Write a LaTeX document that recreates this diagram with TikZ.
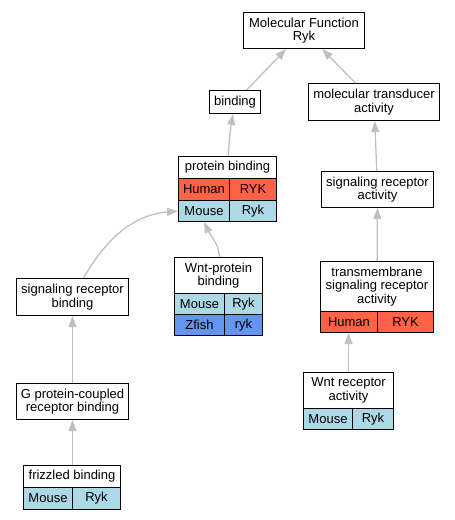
\documentclass[tikz,border=0pt]{standalone}
\usepackage{fontspec}
\setmainfont{Liberation Sans}
\usetikzlibrary{arrows.meta}
\definecolor{tomatoc}{RGB}{255,99,71}
\definecolor{lblue}{RGB}{173,216,230}
\definecolor{cblue}{RGB}{100,149,237}
\definecolor{edgegray}{RGB}{192,192,192}
\begin{document}
\begin{tikzpicture}[x=1pt,y=-1pt,
  cell/.style={draw=black, line width=1pt, inner sep=0pt, anchor=north west,
    align=center, font=\fontsize{13}{13.5}\selectfont, fill=white},
  human/.style={cell, fill=tomatoc},
  mouse/.style={cell, fill=lblue},
  zfish/.style={cell, fill=cblue},
  edge/.style={draw=edgegray, line width=1.3pt, -{Triangle[length=11pt,width=8pt]}}
]
\useasboundingbox (0,0) rectangle (455,520);
% nodes
\node[cell, minimum width=121pt, minimum height=36pt] (mf) at (243,12) {Molecular Function\\Ryk};
\node[cell, minimum width=51pt, minimum height=23pt] (bind) at (209,90) {binding};
\node[cell, minimum width=131pt, minimum height=37pt] (mta) at (308,83) {molecular transducer\\activity};
% protein binding
\node[cell, minimum width=98pt, minimum height=22pt] (pbh) at (178,156) {protein binding};
\node[human, minimum width=51pt, minimum height=22pt] (pbhu) at (178,178) {Human};
\node[human, minimum width=47pt, minimum height=22pt] (pbhur) at (229,178) {RYK};
\node[mouse, minimum width=51pt, minimum height=21pt] (pbm) at (178,200) {Mouse};
\node[mouse, minimum width=47pt, minimum height=21pt] (pbmr) at (229,200) {Ryk};
\node[cell, minimum width=112pt, minimum height=36pt] (sra) at (321,171) {signaling receptor\\activity};
\node[cell, minimum width=112pt, minimum height=37pt] (srb) at (16,278) {signaling receptor\\binding};
% Wnt-protein binding
\node[cell, minimum width=88pt, minimum height=36pt] (wpbh) at (174,257) {Wnt-protein\\binding};
\node[mouse, minimum width=50pt, minimum height=21pt] (wpbm) at (174,293) {Mouse};
\node[mouse, minimum width=38pt, minimum height=21pt] (wpbmr) at (224,293) {Ryk};
\node[zfish, minimum width=50pt, minimum height=21pt] (wpbz) at (174,314) {Zfish};
\node[zfish, minimum width=38pt, minimum height=21pt] (wpbzr) at (224,314) {ryk};
\node[cell, minimum width=112pt, minimum height=36pt] (gp) at (16,383) {G protein-coupled\\receptor binding};
% frizzled binding
\node[cell, minimum width=97pt, minimum height=22pt] (fzh) at (23,465) {frizzled binding};
\node[mouse, minimum width=49pt, minimum height=22pt] (fzm) at (23,487) {Mouse};
\node[mouse, minimum width=48pt, minimum height=22pt] (fzmr) at (72,487) {Ryk};
% transmembrane
\node[cell, minimum width=113pt, minimum height=50pt] (tmh) at (320,261) {transmembrane\\signaling receptor\\activity};
\node[human, minimum width=57pt, minimum height=21pt] (tmhu) at (320,311) {Human};
\node[human, minimum width=56pt, minimum height=21pt] (tmhur) at (377,311) {RYK};
% Wnt receptor activity
\node[cell, minimum width=90pt, minimum height=36pt] (wrah) at (303,372) {Wnt receptor\\activity};
\node[mouse, minimum width=49pt, minimum height=21pt] (wram) at (303,408) {Mouse};
\node[mouse, minimum width=41pt, minimum height=21pt] (wramr) at (352,408) {Ryk};
% edges
\draw[edge] (bind) -- (mf);
\draw[edge] (mta) -- (mf);
\draw[edge] (pbh) to[bend left=3] (bind);
\draw[edge] (sra) -- (mta);
\draw[edge] ([xshift=1pt]wpbh.north) to[out=95,in=-65] (pbm.south);
\draw[edge] ([xshift=11pt]srb.north) to[out=60,in=185] (pbm.west);
\draw[edge] (gp) -- (srb);
\draw[edge] (fzh.north -| gp.south) -- (gp.south);
\draw[edge] (tmh) -- (sra);
\draw[edge] (wrah.north) -- (wrah.north |- tmhu.south);
\end{tikzpicture}
\end{document}
